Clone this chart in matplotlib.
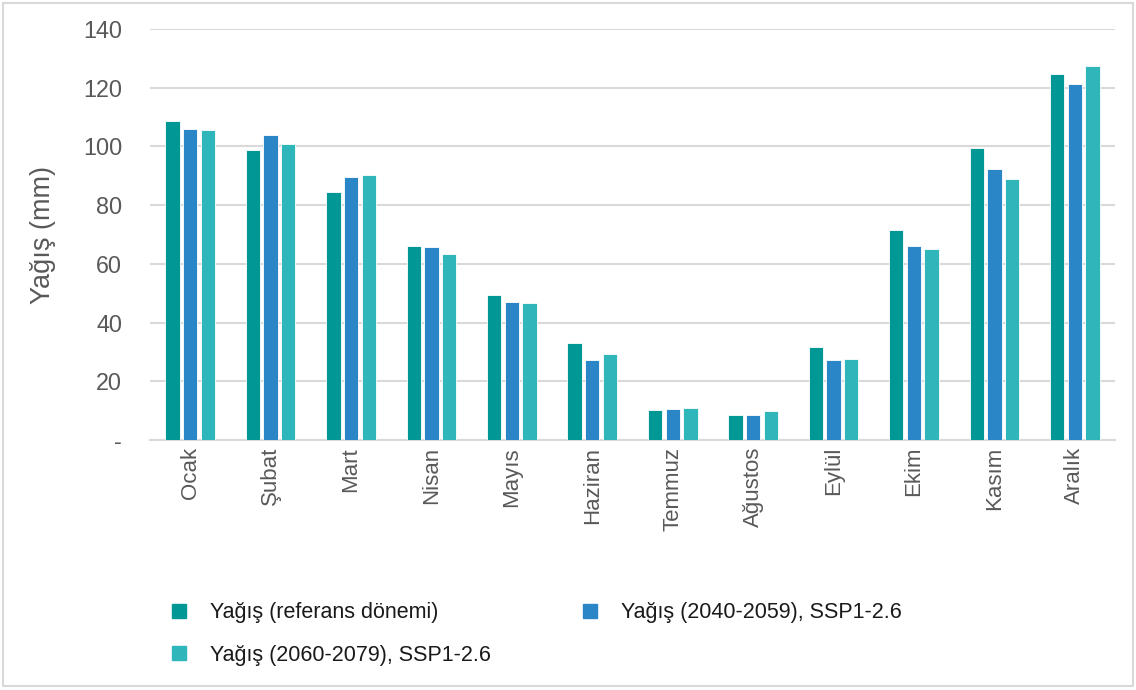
import numpy as np
import matplotlib
matplotlib.use("Agg")
import matplotlib.pyplot as plt
from matplotlib.lines import Line2D
from matplotlib.patches import Rectangle
from matplotlib.ticker import FuncFormatter

plt.rcParams["font.family"] = ["Liberation Sans", "DejaVu Sans"]

months = ["Ocak", "Şubat", "Mart", "Nisan", "Mayıs", "Haziran",
          "Temmuz", "Ağustos", "Eylül", "Ekim", "Kasım", "Aralık"]
ref_period = [108.8, 98.7, 84.6, 66.2, 49.5, 33.0, 10.3, 8.6, 31.7, 71.4, 99.5, 124.6]
ssp126_2040 = [105.9, 103.8, 89.6, 65.7, 47.1, 27.4, 10.7, 8.4, 27.2, 66.1, 92.2, 121.4]
ssp126_2060 = [105.7, 100.8, 90.4, 63.2, 46.5, 29.4, 11.0, 10.0, 27.5, 65.1, 89.0, 127.5]

series_labels = ["Yağış (referans dönemi)",
                 "Yağış (2040-2059), SSP1-2.6",
                 "Yağış (2060-2079), SSP1-2.6"]
colors = ["#009794", "#2B86C7", "#2FB6BB"]

fig = plt.figure(figsize=(11.36, 6.90), dpi=100)
ax = fig.add_axes([150 / 1136, 1 - 440 / 690, 965 / 1136, 411 / 690])

x = np.arange(len(months))
step = 0.22
width = 0.178
for i, vals in enumerate([ref_period, ssp126_2040, ssp126_2060]):
    ax.bar(x + (i - 1) * step, vals, width=width, color=colors[i],
           edgecolor="white", linewidth=0.6, zorder=3)

ax.set_xlim(-0.5, len(months) - 0.5)
ax.set_ylim(0, 140)
ax.set_yticks(np.arange(0, 141, 20))
ax.yaxis.set_major_formatter(FuncFormatter(lambda v, p: "-" if v == 0 else f"{v:.0f}"))
ax.set_xticks(x)
ax.set_xticklabels(months, rotation=90, va="top")

ax.grid(axis="y", color="#D9D9D9", linewidth=1.5, zorder=0)
for side in ["top", "right", "left"]:
    ax.spines[side].set_visible(False)
ax.spines["bottom"].set_color("#D9D9D9")
ax.spines["bottom"].set_linewidth(1.5)

ax.tick_params(axis="y", length=0, pad=20, labelsize=16.8, labelcolor="#595959")
ax.tick_params(axis="x", length=0, pad=5, labelsize=16, labelcolor="#595959")

ax.set_ylabel("Yağış (mm)", fontsize=19.5, color="#595959")
ax.yaxis.set_label_coords(-0.097, 0.5)

handles = [Line2D([], [], marker="s", linestyle="none", markersize=9.5,
                  color=c) for c in colors]
# matplotlib fills legend column-wise, so reorder to get row layout
order = [0, 2, 1]
fig.legend([handles[k] for k in order], [series_labels[k] for k in order],
           ncol=2, loc="upper left", bbox_to_anchor=(151 / 1136, 1 - 583 / 690),
           frameon=False, fontsize=15.5, handlelength=0.8, handletextpad=1.05,
           columnspacing=4.2, labelspacing=1.0, labelcolor="#1a1a1a")

fig.patches.append(Rectangle((3 / 1136, 4 / 690), 1130 / 1136, 683 / 690,
                             transform=fig.transFigure, fill=False,
                             edgecolor="#D9D9D9", linewidth=1.5))

fig.savefig("out.png", dpi=100)
